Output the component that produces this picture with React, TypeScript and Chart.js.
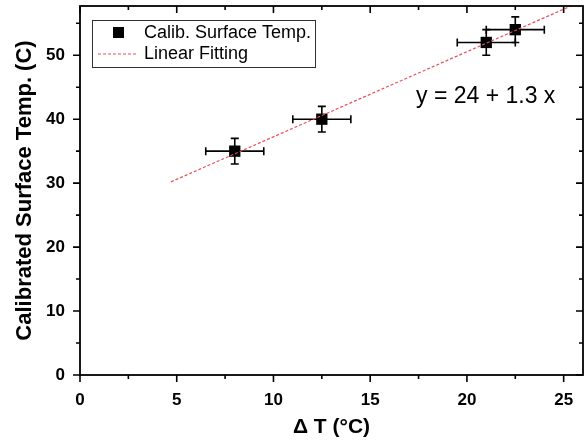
import React, { useEffect, useRef } from "react";
import { Chart, registerables } from "chart.js";

Chart.register(...registerables);

// Data
const xValues = [8, 12.5, 21, 22.5];
const yValues = [35, 40, 52, 54];
const xErrors = [1.5, 1.5, 1.5, 1.5];
const yErrors = [2, 2, 2, 2];
const fitX = [4.7, 25.6];
const fitY = [30.2, 58.0];
const xTicks = [0, 5, 10, 15, 20, 25];
const yTicks = [0, 10, 20, 30, 40, 50];
const xMinorTicks = [2.5, 7.5, 12.5, 17.5, 22.5];
const yMinorTicks = [5, 15, 25, 35, 45, 55];
const seriesLabel = "Calib. Surface Temp.";
const fitLabel = "Linear Fitting";
const equationText = "y = 24 + 1.3 x";
const xTitle = "\u0394 T (\u00B0C)";
const yTitle = "Calibrated Surface Temp. (C)";

const FONT = "'Liberation Sans', Arial, Helvetica, sans-serif";
const FIT_COLOR = "#e8505a";

const overlayPlugin = {
  id: "overlay",
  beforeDatasetsDraw(chart: any) {
    const ctx = chart.ctx;
    const xs = chart.scales.x;
    const ys = chart.scales.y;
    ctx.save();
    ctx.strokeStyle = "#000";
    ctx.lineWidth = 1.6;
    const cap = 4;
    for (let i = 0; i < xValues.length; i++) {
      const px = xs.getPixelForValue(xValues[i]);
      const py = ys.getPixelForValue(yValues[i]);
      const x1 = xs.getPixelForValue(xValues[i] - xErrors[i]);
      const x2 = xs.getPixelForValue(xValues[i] + xErrors[i]);
      const y1 = ys.getPixelForValue(yValues[i] - yErrors[i]);
      const y2 = ys.getPixelForValue(yValues[i] + yErrors[i]);
      ctx.beginPath();
      ctx.moveTo(x1, py);
      ctx.lineTo(x2, py);
      ctx.moveTo(x1, py - cap);
      ctx.lineTo(x1, py + cap);
      ctx.moveTo(x2, py - cap);
      ctx.lineTo(x2, py + cap);
      ctx.moveTo(px, y1);
      ctx.lineTo(px, y2);
      ctx.moveTo(px - cap, y1);
      ctx.lineTo(px + cap, y1);
      ctx.moveTo(px - cap, y2);
      ctx.lineTo(px + cap, y2);
      ctx.stroke();
    }
    ctx.restore();
  },
  afterDraw(chart: any) {
    const ctx = chart.ctx;
    const xs = chart.scales.x;
    const ys = chart.scales.y;
    const a = chart.chartArea;
    ctx.save();
    ctx.strokeStyle = "#000";
    ctx.lineWidth = 1.8;
    ctx.strokeRect(a.left, a.top, a.right - a.left, a.bottom - a.top);
    const major = 7;
    const minor = 4;
    ctx.lineWidth = 1.6;
    ctx.beginPath();
    const xt = (v: number, len: number) => {
      const p = xs.getPixelForValue(v);
      ctx.moveTo(p, a.bottom);
      ctx.lineTo(p, a.bottom + len);
      ctx.moveTo(p, a.top);
      ctx.lineTo(p, a.top + len);
    };
    const yt = (v: number, len: number) => {
      const p = ys.getPixelForValue(v);
      ctx.moveTo(a.left, p);
      ctx.lineTo(a.left - len, p);
      ctx.moveTo(a.right, p);
      ctx.lineTo(a.right - len, p);
    };
    xTicks.forEach((v) => xt(v, major));
    xMinorTicks.forEach((v) => xt(v, minor));
    yTicks.forEach((v) => yt(v, major));
    yMinorTicks.forEach((v) => yt(v, minor));
    ctx.stroke();

    // Legend box
    const lx = 92, ly = 20, lw = 223, lh = 47;
    ctx.lineWidth = 1;
    ctx.strokeStyle = "#333";
    ctx.fillStyle = "#fff";
    ctx.fillRect(lx, ly, lw, lh);
    ctx.strokeRect(lx + 0.5, ly + 0.5, lw, lh);
    ctx.fillStyle = "#000";
    ctx.fillRect(113, 27, 11, 11);
    ctx.strokeStyle = FIT_COLOR;
    ctx.setLineDash([3, 2]);
    ctx.beginPath();
    ctx.moveTo(98, 54);
    ctx.lineTo(138, 54);
    ctx.stroke();
    ctx.setLineDash([]);
    ctx.fillStyle = "#000";
    ctx.font = `18px ${FONT}`;
    ctx.textAlign = "left";
    ctx.textBaseline = "middle";
    ctx.fillText(seriesLabel, 144, 33);
    ctx.fillText(fitLabel, 144, 54);

    // Equation
    ctx.font = `23px ${FONT}`;
    ctx.fillText(equationText, 416, 97);
    ctx.restore();
  },
};

export default function App() {
  const ref = useRef<HTMLCanvasElement>(null);
  useEffect(() => {
    const canvas = ref.current!;
    const chart = new Chart(canvas, {
      type: "scatter",
      data: {
        datasets: [
          {
            label: fitLabel,
            data: fitX.map((x, i) => ({ x, y: fitY[i] })),
            showLine: true,
            borderColor: FIT_COLOR,
            borderWidth: 1.2,
            borderDash: [3, 2],
            pointRadius: 0,
            fill: false,
          },
          {
            label: seriesLabel,
            data: xValues.map((x, i) => ({ x, y: yValues[i] })),
            pointStyle: "rect",
            pointRadius: 8,
            backgroundColor: "#000",
            borderColor: "#000",
            borderWidth: 0,
          },
        ],
      },
      options: {
        animation: false,
        responsive: true,
        maintainAspectRatio: false,
        layout: { autoPadding: false, padding: { left: 0, top: 6, right: 4, bottom: 0 } },
        plugins: { legend: { display: false }, tooltip: { enabled: false } },
        scales: {
          x: {
            type: "linear",
            min: 0,
            max: 26,
            afterBuildTicks: (s: any) => {
              s.ticks = xTicks.map((v) => ({ value: v }));
            },
            afterFit: (s: any) => {
              s.height = 65;
              s.paddingLeft = 0;
              s.paddingRight = 0;
            },
            grid: { display: false, drawTicks: false },
            border: { display: false },
            ticks: {
              color: "#000",
              padding: 15,
              maxRotation: 0,
              font: { family: FONT, size: 17, weight: "bold" },
            },
            title: {
              display: true,
              text: xTitle,
              color: "#000",
              font: { family: FONT, size: 21, weight: "bold" },
              padding: { top: 0, bottom: 0 },
            },
          },
          y: {
            type: "linear",
            min: 0,
            max: 57.7,
            afterBuildTicks: (s: any) => {
              s.ticks = yTicks.map((v) => ({ value: v }));
            },
            afterFit: (s: any) => {
              s.width = 80;
              s.paddingTop = 0;
              s.paddingBottom = 0;
            },
            grid: { display: false, drawTicks: false },
            border: { display: false },
            ticks: {
              color: "#000",
              padding: 15,
              font: { family: FONT, size: 17, weight: "bold" },
            },
            title: {
              display: true,
              text: yTitle,
              color: "#000",
              font: { family: FONT, size: 22, weight: "bold" },
              padding: { top: 12, bottom: 0 },
            },
          },
        },
      },
      plugins: [overlayPlugin],
    });
    return () => chart.destroy();
  }, []);
  return (
    <div style={{ position: "absolute", left: 0, top: 0, width: 587, height: 440 }}>
      <canvas ref={ref} />
    </div>
  );
}
